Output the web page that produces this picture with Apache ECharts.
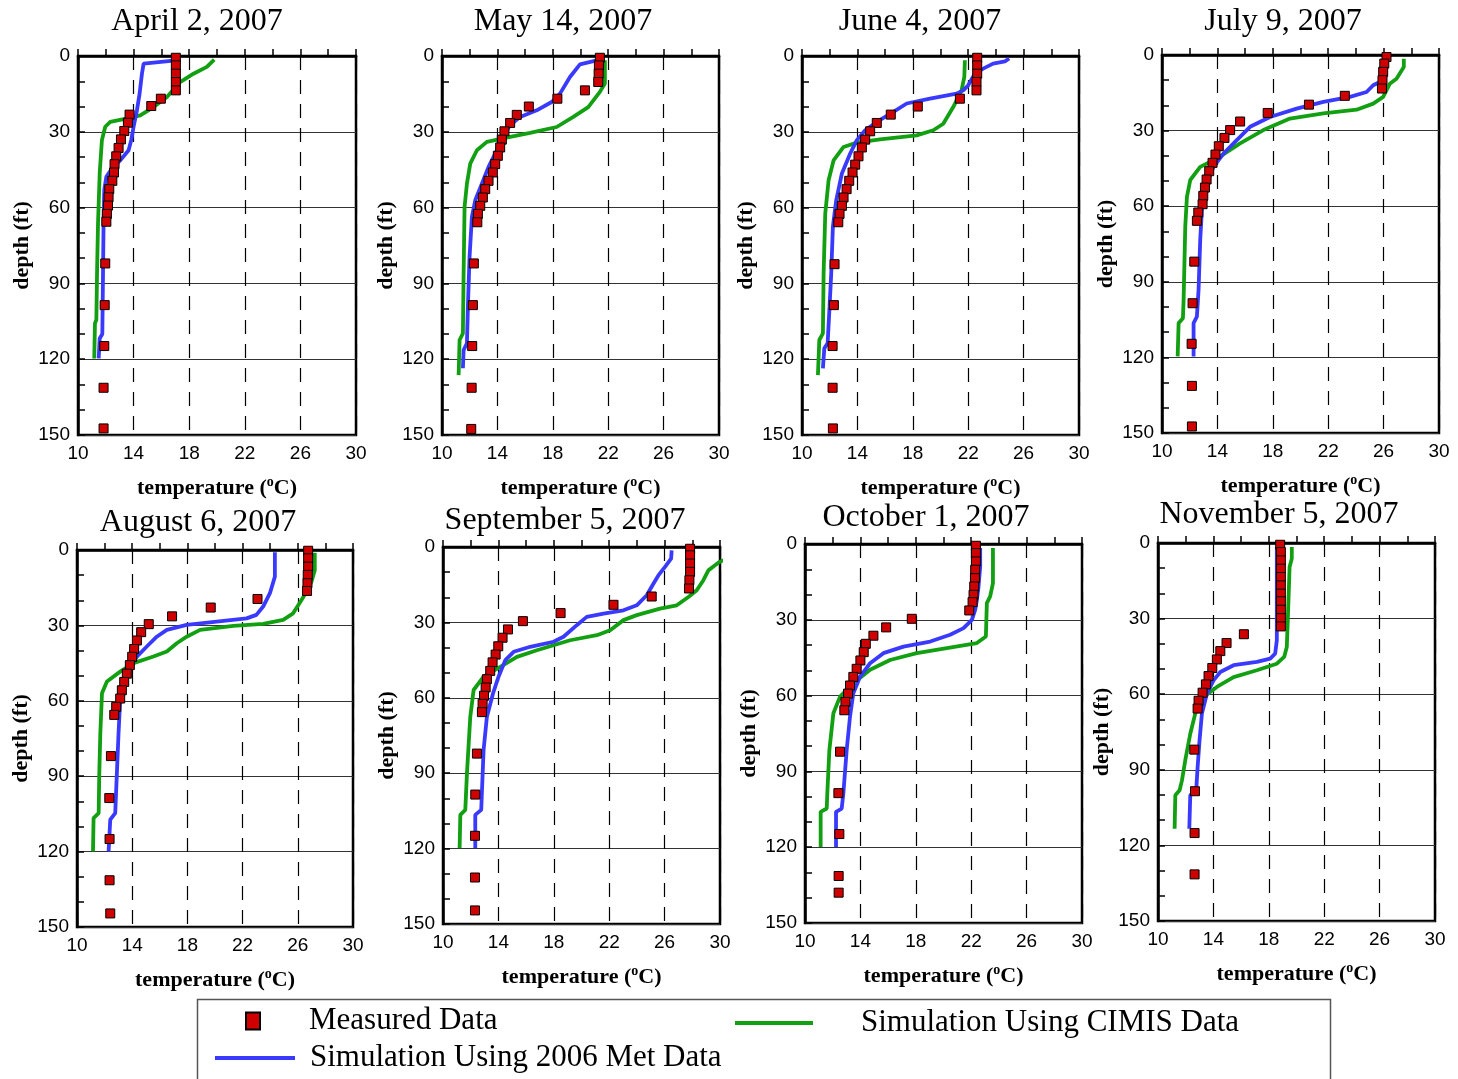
<!DOCTYPE html>
<html>
<head>
<meta charset="utf-8">
<script src="https://cdn.jsdelivr.net/npm/echarts@6/dist/echarts.min.js"></script>
<style>html,body{margin:0;padding:0;background:#fff;}#chart{width:1458px;height:1079px;}</style>
</head>
<body>
<div id="chart"></div>
<script>
// ---- data: [temperature (°C), depth (ft)] ----
const panelTitles = ['April 2, 2007','May 14, 2007','June 4, 2007','July 9, 2007','August 6, 2007','September 5, 2007','October 1, 2007','November 5, 2007'];
const tempTicks = [10, 14, 18, 22, 26, 30];
const depthTicks = [0, 30, 60, 90, 120, 150];
const seriesNames = ['Measured Data', 'Simulation Using CIMIS Data', 'Simulation Using 2006 Met Data'];

const aprMeasured = [[17.04,0.7],[17.04,3.7],[17.04,7],[17.04,10.3],[17.04,13.6],[15.96,16.9],[15.27,19.8],[13.71,23.2],[13.59,26.4],[13.33,29.7],[13.09,33],[12.92,36.4],[12.75,39.7],[12.63,42.8],[12.59,46.1],[12.47,49.4],[12.25,52.7],[12.2,55.9],[12.16,59.2],[12.08,62.5],[12.04,65.6],[11.96,82.1],[11.92,98.6],[11.89,114.8],[11.84,131.3],[11.84,147.4]];
const aprMet = [[17.04,1.7],[14.72,3],[14.6,7],[14.43,15],[14.24,21.5],[14.0,28],[13.83,33.3],[13.64,37.3],[13.04,41.3],[12.44,44.5],[12.04,47.8],[11.89,53],[11.84,66],[11.8,86],[11.75,110],[11.56,111.8],[11.49,119.7]];
const aprCimis = [[19.8,1.4],[19.27,4.3],[18.31,7],[17.35,10.3],[16.4,16.2],[15.44,20.2],[14.48,23.5],[13.28,25],[12.32,26.1],[11.96,28],[11.72,33.3],[11.56,46.5],[11.44,66.3],[11.37,86],[11.32,104.5],[11.22,105.8],[11.17,119.7]];

const mayMeasured = [[21.4,0.7],[21.33,3.7],[21.31,7],[21.28,10.3],[20.32,13.6],[18.33,16.9],[16.27,20],[15.4,23.3],[14.92,26.5],[14.51,29.8],[14.32,33.1],[14.2,36.2],[14.03,39.5],[13.84,42.8],[13.67,46.1],[13.36,49.4],[13.12,52.7],[12.95,56],[12.76,59.3],[12.59,62.5],[12.55,65.8],[12.3,82.1],[12.23,98.6],[12.18,114.8],[12.14,131.3],[12.11,147.6]];
const mayMet = [[21.4,1.4],[19.96,3.3],[19.24,8.3],[18.52,14.9],[17.92,18.2],[16.84,21.5],[15.64,24.1],[14.92,27.4],[14.44,31.4],[13.96,37.3],[13.36,43.9],[12.88,50.5],[12.4,57.1],[12.16,63.7],[11.99,79.5],[11.87,99.2],[11.8,113.7],[11.56,116.4],[11.51,123.6]];
const mayCimis = [[21.76,1.7],[21.76,10.9],[21.4,14.2],[20.56,20.2],[19.48,24.1],[18.28,28.1],[16.36,30.4],[14.92,32],[13.24,34],[12.52,37.3],[12.04,42.6],[11.8,50.5],[11.63,59.7],[11.56,86.1],[11.51,109.8],[11.27,112.4],[11.2,126.3]];

const junMeasured = [[22.65,0.7],[22.65,3.7],[22.65,7],[22.6,10.3],[22.6,13.6],[21.4,16.9],[18.36,20],[16.41,23.2],[15.4,26.5],[14.92,29.8],[14.56,33.1],[14.32,36.2],[14.08,39.7],[13.84,43],[13.65,46.1],[13.41,49.4],[13.22,52.7],[13.0,56],[12.88,59.3],[12.71,62.5],[12.62,65.8],[12.35,82.4],[12.3,98.6],[12.21,114.8],[12.21,131.3],[12.23,147.4]];
const junMet = [[24.96,1],[24.65,2.1],[23.8,3],[23.08,5],[22.48,7],[22.0,11.6],[21.64,13.6],[21.16,14.9],[19.24,16.9],[17.56,18.8],[16.6,22.1],[15.4,26.1],[14.56,29.4],[13.96,33.3],[13.48,38.6],[12.88,46.5],[12.47,57.1],[12.23,67.6],[12.11,86.1],[11.99,99.2],[11.85,113.7],[11.61,115.7],[11.51,123.6]];
const junCimis = [[21.76,1.7],[21.72,8.3],[21.52,13.6],[20.92,20.2],[20.2,26.8],[19.48,29.4],[18.28,31.4],[15.64,33],[13.96,34.3],[13.0,36],[12.28,41.3],[11.92,49.2],[11.68,62.3],[11.56,86.1],[11.51,109.8],[11.25,112.4],[11.15,126.3]];

const julMeasured = [[26.21,0.8],[26.05,3.4],[25.97,6.7],[25.92,10],[25.88,13.3],[23.2,16.2],[20.61,19.7],[17.63,23],[15.64,26.4],[14.92,29.8],[14.51,32.9],[14.1,36.2],[13.86,39.5],[13.65,42.8],[13.41,46.1],[13.22,49.4],[13.1,52.6],[12.98,55.9],[12.93,59.2],[12.62,62.5],[12.52,65.8],[12.33,82],[12.21,98.5],[12.14,114.6],[12.16,131.3],[12.16,147.4]];
const julMet = [[26.16,0.8],[26.16,7.4],[25.97,10],[25.25,12],[24.77,14.7],[23.57,16.6],[21.65,18.6],[19.72,21.3],[17.8,24.6],[16.36,28.5],[15.4,33.8],[14.44,39.1],[13.72,44.4],[13.24,51],[12.88,61.5],[12.76,73.4],[12.64,93.2],[12.52,103.8],[12.28,106.4],[12.28,119.6]];
const julCimis = [[27.46,1.5],[27.46,4.8],[26.93,9.4],[26.45,11.4],[25.97,16.6],[25.25,19.3],[24.05,21.7],[21.65,23.2],[19.24,25.2],[17.32,29.8],[15.64,35.1],[13.96,41.1],[12.76,44.4],[12.04,49.6],[11.8,56.3],[11.68,68.1],[11.56,97.2],[11.51,104.5],[11.2,106.4],[11.13,119.6]];

const augMeasured = [[26.75,0.3],[26.75,3.3],[26.75,6.6],[26.72,9.9],[26.7,13.2],[26.67,16.3],[23.08,19.5],[19.69,22.9],[16.89,26.4],[15.2,29.5],[14.65,32.7],[14.34,36],[14.14,39.4],[14.0,42.5],[13.83,45.8],[13.61,49.2],[13.42,52.5],[13.25,55.8],[13.13,59.1],[12.84,62.4],[12.7,65.6],[12.46,82],[12.34,98.7],[12.36,115],[12.36,131.4],[12.41,144.6]];
const augMet = [[24.34,0.9],[24.34,10.6],[23.98,17.2],[23.49,22.5],[23.0,25.8],[22.29,27.2],[20.12,28.5],[17.95,29.8],[16.51,31.8],[15.78,34.5],[15.06,38.4],[14.34,42.4],[13.86,46.4],[13.37,53],[13.13,59.6],[13.01,72.9],[12.89,88.8],[12.77,104.7],[12.41,107.3],[12.29,119.9]];
const augCimis = [[27.23,1.1],[27.23,8],[26.99,12.6],[26.63,16.6],[26.27,19.9],[25.66,25.2],[24.94,27.8],[23.49,29.4],[21.33,30.2],[18.92,31.8],[17.95,34.5],[17.23,37.1],[16.51,40.4],[15.54,42.4],[14.1,45],[13.13,48.4],[12.17,52.3],[11.81,57],[11.69,72.9],[11.61,90.1],[11.57,104.7],[11.2,106.7],[11.16,119.9]];

const sepMeasured = [[27.84,0.7],[27.84,3.3],[27.84,6.6],[27.84,9.9],[27.79,13.2],[27.76,16.5],[25.07,19.7],[22.31,23],[18.49,26.3],[15.77,29.5],[14.69,32.8],[14.3,36.1],[13.99,39.5],[13.8,42.8],[13.58,45.9],[13.41,49.3],[13.17,52.6],[13.08,55.9],[12.96,59.2],[12.86,62.4],[12.81,65.7],[12.45,82.2],[12.33,98.5],[12.31,114.9],[12.31,131.5],[12.31,144.6]];
const sepMet = [[26.51,1.3],[26.47,4.6],[26.03,7.9],[25.55,11.3],[25.19,14.6],[24.71,19.2],[23.99,23.2],[23.03,25.2],[21.59,26.5],[20.38,27.8],[19.66,31.1],[18.7,35.7],[17.98,37.7],[16.3,39.7],[15.1,41.7],[14.5,45],[14.01,51.6],[13.61,58.3],[13.17,67.5],[12.93,80.8],[12.76,104.6],[12.33,106.6],[12.33,119.8]];
const sepCimis = [[30.6,4.5],[29.95,6],[29.64,7.3],[29.16,9.3],[28.8,13.2],[28.32,17.2],[27.72,19.9],[26.88,23.2],[25.67,24.5],[23.99,27.1],[23.03,29.1],[22.07,33.1],[21.11,35.1],[19.18,37.1],[16.78,41.1],[15.34,43.7],[14.13,47.7],[12.93,51.6],[12.21,56.9],[11.97,67.5],[11.73,90],[11.61,104.6],[11.25,106.6],[11.2,119.8]];

const octMeasured = [[22.34,0.7],[22.34,3.6],[22.34,6.9],[22.29,10.2],[22.27,13.5],[22.22,16.8],[22.17,20.1],[22.1,23],[21.86,26.3],[17.71,29.6],[15.86,33],[14.94,36.3],[14.39,39.5],[14.24,42.8],[14.0,46.1],[13.73,49.4],[13.49,52.6],[13.25,56],[13.11,59.2],[12.92,62.5],[12.84,65.8],[12.53,82.2],[12.41,98.6],[12.48,114.8],[12.43,131.4],[12.43,138]];
const octMet = [[22.65,1.6],[22.65,8.9],[22.53,16.8],[22.41,22.1],[22.29,26],[22.05,30],[21.45,33.3],[20.48,35.9],[19.04,38.6],[17.11,40.6],[15.66,43.2],[14.7,47.2],[13.98,52.5],[13.49,59.1],[13.25,68.3],[13.01,81.5],[12.77,98.7],[12.65,104.7],[12.24,106],[12.24,119.9]];
const octCimis = [[23.57,1.6],[23.57,15.5],[23.37,20.7],[23.13,23.4],[23.06,36.6],[22.41,39.2],[20.24,41.2],[18.07,43.2],[16.14,45.9],[14.7,49.8],[13.49,55.1],[12.53,60.4],[12.05,67],[11.76,81.5],[11.61,98.7],[11.57,104.7],[11.13,106],[11.13,119.9]];

const novMeasured = [[18.82,0.7],[18.87,3.6],[18.87,6.9],[18.87,10.2],[18.87,13.5],[18.87,16.8],[18.87,20.1],[18.87,23.1],[18.87,26.5],[18.87,29.8],[18.87,33.1],[16.2,36.2],[14.95,39.7],[14.5,42.9],[14.25,46.2],[13.92,49.6],[13.65,52.8],[13.46,56.1],[13.22,59.4],[12.93,62.6],[12.86,65.7],[12.62,82],[12.67,98.5],[12.64,115.1],[12.64,131.5]];
const novMet = [[18.58,1.6],[18.58,22.8],[18.58,38.6],[18.46,43.9],[18.1,45.9],[17.14,47.2],[15.46,48.5],[14.5,51.2],[14.01,54.5],[13.53,59.8],[13.17,67.7],[13.0,78.3],[12.86,88.9],[12.76,98.1],[12.33,100.1],[12.26,113.4]];
const novCimis = [[19.66,1.6],[19.66,6.2],[19.5,9.5],[19.42,22.8],[19.3,41.3],[19.11,45.2],[18.58,47.9],[17.14,50.5],[15.46,53.2],[14.25,57.1],[13.29,61.1],[12.69,67.7],[12.33,75.7],[11.97,86.2],[11.73,94.2],[11.56,98.1],[11.25,100.1],[11.2,113.4]];

const measuredSets = [aprMeasured, mayMeasured, junMeasured, julMeasured, augMeasured, sepMeasured, octMeasured, novMeasured];
const metSets = [aprMet, mayMet, junMet, julMet, augMet, sepMet, octMet, novMet];
const cimisSets = [aprCimis, mayCimis, junCimis, julCimis, augCimis, sepCimis, octCimis, novCimis];

// ---- layout (pixel boxes of the plot areas: left, right, top, bottom) ----
const boxes = [
  [78, 356, 56, 435], [442, 719, 56, 435], [802, 1079, 56, 435], [1162, 1439, 55, 433],
  [77, 353, 550, 927], [443, 720, 547, 924], [805, 1082, 544, 923], [1158, 1435, 543, 921]
];
const titleCX = [197, 563, 920, 1283, 198, 565, 926, 1279];
const titleCY = [23, 23, 23, 23, 524, 522, 519, 516];

const SERIF = '"Liberation Serif", "Times New Roman", serif';
const SANS = '"Liberation Sans", Arial, sans-serif';
const RED = '#d00000', BLUE = '#3a3aff', GREEN = '#12a012';

const grids = [], xAxes = [], yAxes = [], series = [], titles = [];
boxes.forEach((b, i) => {
  grids.push({ left: b[0], top: b[2], width: b[1] - b[0], height: b[3] - b[2],
    show: true, borderColor: '#000', borderWidth: 2.5, backgroundColor: 'transparent', containLabel: false });
  titles.push({ text: panelTitles[i], left: titleCX[i], top: titleCY[i] - 17, textAlign: 'center', padding: 0,
    textStyle: { fontFamily: SERIF, fontSize: 32, fontWeight: 'normal', color: '#000' } });
  xAxes.push({ type: 'value', gridIndex: i, min: tempTicks[0], max: tempTicks[tempTicks.length - 1], interval: tempTicks[1] - tempTicks[0],
    name: '{a|temperature (}{s|o}{a|C)}', nameLocation: 'middle', nameGap: 40, nameMoveOverlap: false,
    nameTextStyle: { rich: {
      a: { fontFamily: SERIF, fontSize: 22, fontWeight: 'bold', color: '#000', lineHeight: 26 },
      s: { fontFamily: SERIF, fontSize: 14, fontWeight: 'bold', color: '#000', lineHeight: 26, verticalAlign: 'top', padding: [0, 0, 10, 0] } } },
    axisLine: { show: true, lineStyle: { color: '#000', width: 2.5 } },
    axisTick: { show: true, inside: true, length: 7, lineStyle: { color: '#000', width: 1.5 } },
    minorTick: { show: true, splitNumber: 2, length: 7, lineStyle: { color: '#000', width: 1.5 } },
    axisLabel: { fontFamily: SANS, fontSize: 19, color: '#000', margin: 9 },
    splitLine: { show: true, lineStyle: { color: '#000', width: 1.2, type: [14, 10] } } });
  yAxes.push({ type: 'value', gridIndex: i, inverse: true, min: depthTicks[0], max: depthTicks[depthTicks.length - 1], interval: depthTicks[1] - depthTicks[0],
    name: 'depth (ft)', nameLocation: 'middle', nameRotate: 90, nameGap: 45, nameMoveOverlap: false,
    nameTextStyle: { fontFamily: SERIF, fontSize: 22, fontWeight: 'bold', color: '#000' },
    axisLine: { show: true, lineStyle: { color: '#000', width: 2.5 } },
    axisTick: { show: true, inside: true, length: 7, lineStyle: { color: '#000', width: 1.5 } },
    minorTick: { show: true, splitNumber: 3, length: 7, lineStyle: { color: '#000', width: 1.5 } },
    axisLabel: { fontFamily: SANS, fontSize: 19, color: '#000', margin: 8 },
    splitLine: { show: true, lineStyle: { color: '#333', width: 1.2 } } });
  series.push({ name: seriesNames[1], type: 'line', xAxisIndex: i, yAxisIndex: i, data: cimisSets[i], showSymbol: false, clip: true,
    lineStyle: { color: GREEN, width: 3.8 }, itemStyle: { color: GREEN }, z: 3 });
  series.push({ name: seriesNames[2], type: 'line', xAxisIndex: i, yAxisIndex: i, data: metSets[i], showSymbol: false, clip: true,
    lineStyle: { color: BLUE, width: 3.8 }, itemStyle: { color: BLUE }, z: 4 });
  series.push({ name: seriesNames[0], type: 'scatter', xAxisIndex: i, yAxisIndex: i, data: measuredSets[i], symbol: 'rect', symbolSize: 9,
    itemStyle: { color: RED, borderColor: '#000', borderWidth: 1, opacity: 1 }, z: 5 });
});

const legendText = (pad) => ({ fontFamily: SERIF, fontSize: 31, color: '#000', lineHeight: 34, padding: [0, 0, 0, pad] });
const legends = [
  { data: [{ name: seriesNames[0], icon: 'rect' }], left: 245, top: 1004, itemWidth: 14, itemHeight: 17, padding: 0, selectedMode: false, textStyle: legendText(44) },
  { data: [{ name: seriesNames[1], icon: 'rect' }], left: 735, top: 1006, itemWidth: 78, itemHeight: 4, padding: 0, selectedMode: false, textStyle: legendText(43) },
  { data: [{ name: seriesNames[2], icon: 'rect' }], left: 215, top: 1041, itemWidth: 80, itemHeight: 4, padding: 0, selectedMode: false, textStyle: legendText(10) }
];

const chart = echarts.init(document.getElementById('chart'), null, { renderer: 'canvas' });
chart.setOption({
  backgroundColor: '#fff',
  animation: false,
  title: titles,
  grid: grids,
  xAxis: xAxes,
  yAxis: yAxes,
  legend: legends,
  graphic: [{ type: 'rect', left: 195, top: 997, shape: { width: 1133, height: 100 }, style: { fill: 'none', stroke: '#555', lineWidth: 1.5 }, silent: true }],
  series: series
});
</script>
</body>
</html>
